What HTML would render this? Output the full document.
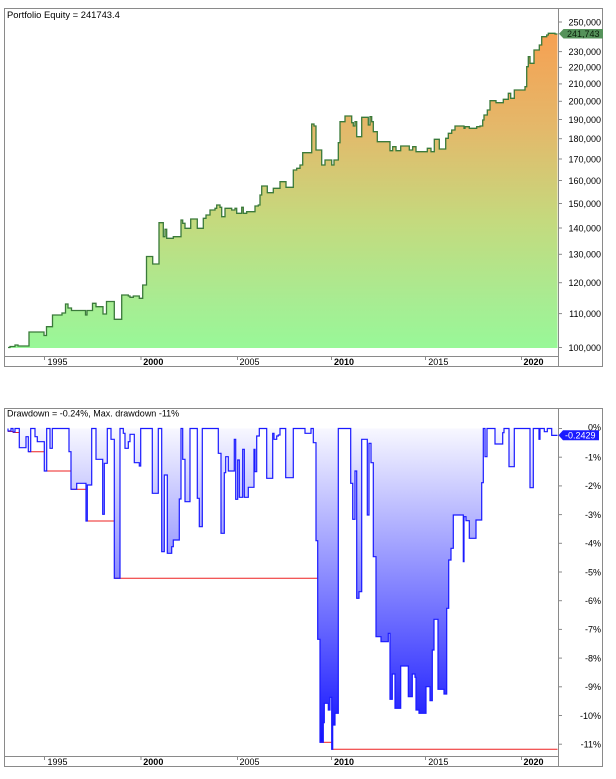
<!DOCTYPE html>
<html><head><meta charset="utf-8"><style>
html,body{margin:0;padding:0;background:#fff;}
svg{display:block;}
text{font-family:"Liberation Sans",Arial,sans-serif;font-size:9px;fill:#000;}
.b{font-weight:bold;}
</style></head><body>
<svg width="616" height="779" viewBox="0 0 616 779" xmlns="http://www.w3.org/2000/svg">
<defs>
<linearGradient id="eg" gradientUnits="userSpaceOnUse" x1="0" y1="33" x2="0" y2="348">
<stop offset="0" stop-color="#f6a052"/>
<stop offset="0.3" stop-color="#e4b86a"/>
<stop offset="0.6" stop-color="#c4da7e"/>
<stop offset="0.85" stop-color="#a8ec92"/>
<stop offset="1" stop-color="#98f898"/>
</linearGradient>
<linearGradient id="dg" gradientUnits="userSpaceOnUse" x1="0" y1="428" x2="0" y2="750">
<stop offset="0" stop-color="#f8f8ff"/>
<stop offset="1" stop-color="#0c0cff"/>
</linearGradient>
</defs>
<rect width="616" height="779" fill="#fff"/>

<!-- TOP PANEL -->
<path d="M8,347.5 H10 V346.5 H15 V345 H18 V346 H29 V332 H44 V335.5 H46.5 V326.7 H52.5 V315 H62 V313 H65.5 V304 H68 V308 H71.5 V310.5 H85.5 V315 H87 V310.5 H92.5 V303.3 H96 V306.7 H103 V314 H106.5 V301.5 H114.3 V319.3 H121.7 V295 H128.3 V296 H130 V297.3 H133.3 V296 H139.3 V298.3 H142.7 V285 H146.5 V256.5 H152.7 V264 H159 V222.7 H163.3 V236.7 H165 V229.3 H166.7 V238.3 H173.3 V236.7 H181 V220 H182.7 V223.3 H185 V228.3 H190.7 V219 H197.3 V228.3 H203.3 V218.3 H206 V215 H210 V210 H215 V208.3 H216.7 V205 H220 V207.3 H221.7 V216.7 H225 V208.3 H231.7 V210 H235 V208.3 H236.7 V213.3 H241.7 V207.3 H243.3 V213.3 H246.7 V211.7 H255 V206 H258.3 V205 H260 V195 H261.7 V186 H267.3 V192.7 H273.3 V188.3 H280 V181.7 H286 V187.3 H293.3 V170 H296.7 V168.3 H300 V165 H302.7 V152.7 H311.7 V124 H314 V126 H316 V150 H321.7 V165 H325 V160 H331.7 V165 H334 V160 H338.3 V142.7 H340 V121.7 H345 V116 H351.7 V122.7 H353.3 V126 H355 V121.7 H356.7 V136.7 H361.7 V117.3 H368.3 V125 H370 V116.7 H371.7 V121.7 H373.3 V131.7 H377.3 V141.7 H390 V150.7 H392.7 V146.7 H396 V150.7 H400.7 V146 H409.3 V150 H412.7 V146.7 H416 V151.7 H427.3 V148.3 H431 V151.7 H434.3 V139.3 H439.3 V149 H445.7 V138.3 H448.3 V133.3 H451.7 V130 H455 V126 H464 V128.3 H465 V126.7 H469.3 V128.3 H476.7 V126.7 H480 V126 H482.7 V120 H484 V115 H487.3 V110 H490 V100.7 H496 V102.7 H503.3 V99.3 H508.3 V93.3 H510.7 V98.3 H514.3 V90 H525 V86.7 H526.7 V66.7 H528.3 V56.7 H530 V63.3 H534 V50 H539.3 V45 H541.7 V36.7 H546.7 V35 H548.3 V33.3 H555 V34 H557.5 V348 H8 Z" fill="url(#eg)"/>
<path d="M8,347.5 H10 V346.5 H15 V345 H18 V346 H29 V332 H44 V335.5 H46.5 V326.7 H52.5 V315 H62 V313 H65.5 V304 H68 V308 H71.5 V310.5 H85.5 V315 H87 V310.5 H92.5 V303.3 H96 V306.7 H103 V314 H106.5 V301.5 H114.3 V319.3 H121.7 V295 H128.3 V296 H130 V297.3 H133.3 V296 H139.3 V298.3 H142.7 V285 H146.5 V256.5 H152.7 V264 H159 V222.7 H163.3 V236.7 H165 V229.3 H166.7 V238.3 H173.3 V236.7 H181 V220 H182.7 V223.3 H185 V228.3 H190.7 V219 H197.3 V228.3 H203.3 V218.3 H206 V215 H210 V210 H215 V208.3 H216.7 V205 H220 V207.3 H221.7 V216.7 H225 V208.3 H231.7 V210 H235 V208.3 H236.7 V213.3 H241.7 V207.3 H243.3 V213.3 H246.7 V211.7 H255 V206 H258.3 V205 H260 V195 H261.7 V186 H267.3 V192.7 H273.3 V188.3 H280 V181.7 H286 V187.3 H293.3 V170 H296.7 V168.3 H300 V165 H302.7 V152.7 H311.7 V124 H314 V126 H316 V150 H321.7 V165 H325 V160 H331.7 V165 H334 V160 H338.3 V142.7 H340 V121.7 H345 V116 H351.7 V122.7 H353.3 V126 H355 V121.7 H356.7 V136.7 H361.7 V117.3 H368.3 V125 H370 V116.7 H371.7 V121.7 H373.3 V131.7 H377.3 V141.7 H390 V150.7 H392.7 V146.7 H396 V150.7 H400.7 V146 H409.3 V150 H412.7 V146.7 H416 V151.7 H427.3 V148.3 H431 V151.7 H434.3 V139.3 H439.3 V149 H445.7 V138.3 H448.3 V133.3 H451.7 V130 H455 V126 H464 V128.3 H465 V126.7 H469.3 V128.3 H476.7 V126.7 H480 V126 H482.7 V120 H484 V115 H487.3 V110 H490 V100.7 H496 V102.7 H503.3 V99.3 H508.3 V93.3 H510.7 V98.3 H514.3 V90 H525 V86.7 H526.7 V66.7 H528.3 V56.7 H530 V63.3 H534 V50 H539.3 V45 H541.7 V36.7 H546.7 V35 H548.3 V33.3 H555 V34 H557.5" fill="none" stroke="#3a7a3a" stroke-width="1.3"/>

<rect x="4.5" y="8.5" width="598" height="358" fill="none" stroke="#8a8a8a"/>
<line x1="558.5" y1="8.5" x2="558.5" y2="366.5" stroke="#8a8a8a"/>
<line x1="4.5" y1="356.5" x2="558.5" y2="356.5" stroke="#8a8a8a"/>
<text x="7" y="18" style="font-size:9.4px">Portfolio Equity = 241743.4</text>

<g stroke="#8a8a8a">
<line x1="559" y1="22" x2="562" y2="22"/>
<line x1="559" y1="51.6" x2="562" y2="51.6"/>
<line x1="559" y1="67.4" x2="562" y2="67.4"/>
<line x1="559" y1="83.9" x2="562" y2="83.9"/>
<line x1="559" y1="101.3" x2="562" y2="101.3"/>
<line x1="559" y1="119.5" x2="562" y2="119.5"/>
<line x1="559" y1="138.7" x2="562" y2="138.7"/>
<line x1="559" y1="159" x2="562" y2="159"/>
<line x1="559" y1="180.5" x2="562" y2="180.5"/>
<line x1="559" y1="203.5" x2="562" y2="203.5"/>
<line x1="559" y1="228" x2="562" y2="228"/>
<line x1="559" y1="254.3" x2="562" y2="254.3"/>
<line x1="559" y1="282.7" x2="562" y2="282.7"/>
<line x1="559" y1="313.6" x2="562" y2="313.6"/>
<line x1="559" y1="347.5" x2="562" y2="347.5"/>
</g>
<g text-anchor="end">
<text x="601" y="25.3">250,000</text>
<text x="601" y="54.9">230,000</text>
<text x="601" y="70.7">220,000</text>
<text x="601" y="87.2">210,000</text>
<text x="601" y="104.6">200,000</text>
<text x="601" y="122.8">190,000</text>
<text x="601" y="142">180,000</text>
<text x="601" y="162.3">170,000</text>
<text x="601" y="183.8">160,000</text>
<text x="601" y="206.8">150,000</text>
<text x="601" y="231.3">140,000</text>
<text x="601" y="257.6">130,000</text>
<text x="601" y="286">120,000</text>
<text x="601" y="316.9">110,000</text>
<text x="601" y="350.8">100,000</text>
</g>
<path d="M559,33.7 L563.5,29 H603 V38.5 H563.5 Z" fill="#55925a"/>
<text x="567" y="37" style="fill:#0a1e0a">241,743</text>

<g stroke="#8a8a8a">
<line x1="44.5" y1="357" x2="44.5" y2="360"/>
<line x1="141" y1="357" x2="141" y2="360"/>
<line x1="237.5" y1="357" x2="237.5" y2="360"/>
<line x1="331.5" y1="357" x2="331.5" y2="360"/>
<line x1="425.5" y1="357" x2="425.5" y2="360"/>
<line x1="521.5" y1="357" x2="521.5" y2="360"/>
</g>
<text x="47.5" y="365">1995</text>
<text x="143.3" y="365" class="b">2000</text>
<text x="239.5" y="365">2005</text>
<text x="334" y="365" class="b">2010</text>
<text x="428.3" y="365">2015</text>
<text x="523.5" y="365" class="b">2020</text>

<!-- BOTTOM PANEL -->
<path d="M8,428.5 V431 H11 V428.5 H13 V432 H15 V428.5 H19.3 V447.7 H26 V436.7 H28.3 V451.7 H30.7 V428.5 H35 V436.7 H37.3 V441.7 H43.3 H44.3 V471 H46.7 V428.5 H50 V448.3 H52.3 V428.5 H69 V451.7 H71 V489.3 H76.7 V483.3 H86 V521 H87.3 V485 H91.7 V428.5 H96 V459.3 H102.7 V514.3 H104.3 V463.3 H107.3 V428.5 H111 V439.3 H114.3 V578.3 H120 V428.5 H123.3 V433.3 H125 V448.3 H128.3 V441.7 H130 V434.3 H134.3 V462.7 H139.3 V466 H140.7 V428.5 H152.3 V493.3 H158.3 V428.5 H161.7 V551.7 H164.3 V475 H167.3 V553.3 H171.7 V546.7 H173.3 V540 H179.3 V499 H181 V428.5 H182.7 V459.3 H185 V501.7 H190 V428.5 H197.3 V498.3 H199.3 V526.7 H202.3 V428.5 H218.3 V453.3 H221 V533.3 H224.3 V472.7 H225.7 V456.7 H228.3 V471 H234.3 V439.3 H235.7 V499.3 H237.7 V460 H239.3 V497.3 H242.7 V449.3 H244.3 V497.3 H248.3 V487.3 H254 V449.3 H255 V471.7 H256.7 V436 H259.3 V428.5 H266.7 V478.3 H272.7 V433.3 H274 V439.3 H276.7 V436 H278.3 V435 H280 V428.5 H285.7 V477.7 H293.3 V428.5 H305 V433.3 H311 V428.5 H313.3 V442.7 H316 V540.7 H317.7 V639.3 H320 V742.3 H323.3 V722.7 H324.3 V703.3 H328.3 V710 H330 V697.3 H331.7 V749.3 H332.7 V725 H335 V713.3 H338.3 V428.5 H350.7 V483.3 H352.7 V519.3 H355 V471 H356.7 V598.3 H359 V591.7 H361.7 V439.3 H367.3 V515 H369 V443.3 H371 V462.7 H373.3 V556.7 H376 V636.7 H381 V641.7 H388.3 V633.3 H390 V699.3 H392.3 V674 H395 V708.3 H400.7 V666 H408.3 V696.7 H412.3 V674 H415 V677.3 H416 V710 H419 V713.3 H426 V686.7 H430 V700.7 H432.3 V650 H434 V619.3 H438 V689.3 H444 V694 H446.7 V608.3 H448.7 V560 H451 V548.3 H453.3 V515 H463.3 V561.7 H464 V516.7 H466 V520.7 H469.3 V538.3 H476 V520 H481.7 V482.7 H483.3 V428.5 H485 V456.7 H487 V428.5 H495 V444 H502.7 V432.7 H504 V428.5 H509 V466.7 H514.3 V428.5 H530 V487.7 H533.3 V428.5 H539 V439.3 H540 V428.5 H544.3 V431.7 H547.3 V428.5 H551.7 V435.4 H557.5 V428.5 H8 Z" fill="url(#dg)"/>
<g stroke="#ee2020" stroke-width="1">
<line x1="8" y1="431.5" x2="13" y2="431.5"/>
<line x1="13" y1="432.5" x2="19.3" y2="432.5"/>
<line x1="28.3" y1="451.7" x2="44.3" y2="451.7"/>
<line x1="44.3" y1="471" x2="71" y2="471"/>
<line x1="71" y1="489.3" x2="86" y2="489.3"/>
<line x1="86" y1="521" x2="114.3" y2="521"/>
<line x1="114.3" y1="578.3" x2="317.7" y2="578.3"/>
<line x1="320" y1="742.3" x2="331.7" y2="742.3"/>
<line x1="331.7" y1="749.3" x2="557.5" y2="749.3"/>
</g>
<path d="M8,428.5 V431 H11 V428.5 H13 V432 H15 V428.5 H19.3 V447.7 H26 V436.7 H28.3 V451.7 H30.7 V428.5 H35 V436.7 H37.3 V441.7 H43.3 H44.3 V471 H46.7 V428.5 H50 V448.3 H52.3 V428.5 H69 V451.7 H71 V489.3 H76.7 V483.3 H86 V521 H87.3 V485 H91.7 V428.5 H96 V459.3 H102.7 V514.3 H104.3 V463.3 H107.3 V428.5 H111 V439.3 H114.3 V578.3 H120 V428.5 H123.3 V433.3 H125 V448.3 H128.3 V441.7 H130 V434.3 H134.3 V462.7 H139.3 V466 H140.7 V428.5 H152.3 V493.3 H158.3 V428.5 H161.7 V551.7 H164.3 V475 H167.3 V553.3 H171.7 V546.7 H173.3 V540 H179.3 V499 H181 V428.5 H182.7 V459.3 H185 V501.7 H190 V428.5 H197.3 V498.3 H199.3 V526.7 H202.3 V428.5 H218.3 V453.3 H221 V533.3 H224.3 V472.7 H225.7 V456.7 H228.3 V471 H234.3 V439.3 H235.7 V499.3 H237.7 V460 H239.3 V497.3 H242.7 V449.3 H244.3 V497.3 H248.3 V487.3 H254 V449.3 H255 V471.7 H256.7 V436 H259.3 V428.5 H266.7 V478.3 H272.7 V433.3 H274 V439.3 H276.7 V436 H278.3 V435 H280 V428.5 H285.7 V477.7 H293.3 V428.5 H305 V433.3 H311 V428.5 H313.3 V442.7 H316 V540.7 H317.7 V639.3 H320 V742.3 H323.3 V722.7 H324.3 V703.3 H328.3 V710 H330 V697.3 H331.7 V749.3 H332.7 V725 H335 V713.3 H338.3 V428.5 H350.7 V483.3 H352.7 V519.3 H355 V471 H356.7 V598.3 H359 V591.7 H361.7 V439.3 H367.3 V515 H369 V443.3 H371 V462.7 H373.3 V556.7 H376 V636.7 H381 V641.7 H388.3 V633.3 H390 V699.3 H392.3 V674 H395 V708.3 H400.7 V666 H408.3 V696.7 H412.3 V674 H415 V677.3 H416 V710 H419 V713.3 H426 V686.7 H430 V700.7 H432.3 V650 H434 V619.3 H438 V689.3 H444 V694 H446.7 V608.3 H448.7 V560 H451 V548.3 H453.3 V515 H463.3 V561.7 H464 V516.7 H466 V520.7 H469.3 V538.3 H476 V520 H481.7 V482.7 H483.3 V428.5 H485 V456.7 H487 V428.5 H495 V444 H502.7 V432.7 H504 V428.5 H509 V466.7 H514.3 V428.5 H530 V487.7 H533.3 V428.5 H539 V439.3 H540 V428.5 H544.3 V431.7 H547.3 V428.5 H551.7 V435.4 H557.5" fill="none" stroke="#1a1aff" stroke-width="1.2"/>

<rect x="4.5" y="408.5" width="598" height="358" fill="none" stroke="#8a8a8a"/>
<line x1="558.5" y1="408.5" x2="558.5" y2="766.5" stroke="#8a8a8a"/>
<line x1="4.5" y1="756.5" x2="558.5" y2="756.5" stroke="#8a8a8a"/>
<text x="7" y="416.5">Drawdown = -0.24%, Max. drawdown -11%</text>

<g stroke="#8a8a8a">
<line x1="559" y1="428.5" x2="562" y2="428.5"/>
<line x1="559" y1="457.2" x2="562" y2="457.2"/>
<line x1="559" y1="485.9" x2="562" y2="485.9"/>
<line x1="559" y1="514.6" x2="562" y2="514.6"/>
<line x1="559" y1="543.3" x2="562" y2="543.3"/>
<line x1="559" y1="572" x2="562" y2="572"/>
<line x1="559" y1="600.7" x2="562" y2="600.7"/>
<line x1="559" y1="629.4" x2="562" y2="629.4"/>
<line x1="559" y1="658.1" x2="562" y2="658.1"/>
<line x1="559" y1="686.8" x2="562" y2="686.8"/>
<line x1="559" y1="715.5" x2="562" y2="715.5"/>
<line x1="559" y1="744.2" x2="562" y2="744.2"/>
</g>
<g text-anchor="end">
<text x="601" y="430.5">0%</text>
<text x="601" y="460.5">-1%</text>
<text x="601" y="489.2">-2%</text>
<text x="601" y="517.9">-3%</text>
<text x="601" y="546.6">-4%</text>
<text x="601" y="575.3">-5%</text>
<text x="601" y="604">-6%</text>
<text x="601" y="632.7">-7%</text>
<text x="601" y="661.4">-8%</text>
<text x="601" y="690.1">-9%</text>
<text x="601" y="718.8">-10%</text>
<text x="601" y="747.5">-11%</text>
</g>
<path d="M558.5,435.2 L563,430.3 H599 V440.2 H563 Z" fill="#1a1aff"/>
<text x="565" y="438.6" style="fill:#fff">-0.2429</text>

<g stroke="#8a8a8a">
<line x1="44.5" y1="757" x2="44.5" y2="760"/>
<line x1="141" y1="757" x2="141" y2="760"/>
<line x1="237.5" y1="757" x2="237.5" y2="760"/>
<line x1="331.5" y1="757" x2="331.5" y2="760"/>
<line x1="425.5" y1="757" x2="425.5" y2="760"/>
<line x1="521.5" y1="757" x2="521.5" y2="760"/>
</g>
<text x="47.5" y="765">1995</text>
<text x="143.3" y="765" class="b">2000</text>
<text x="239.5" y="765">2005</text>
<text x="334" y="765" class="b">2010</text>
<text x="428.3" y="765">2015</text>
<text x="523.5" y="765" class="b">2020</text>
</svg>
</body></html>
